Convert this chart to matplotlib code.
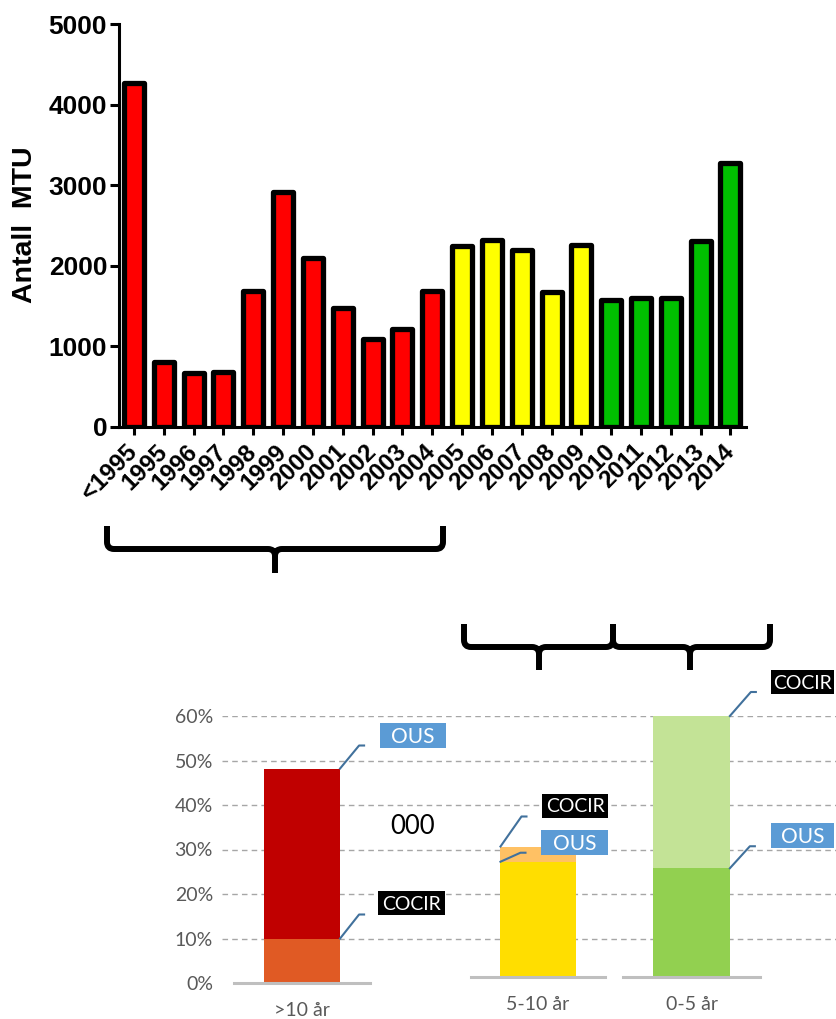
import matplotlib
matplotlib.use('Agg')
import matplotlib.pyplot as plt
from matplotlib.path import Path
from matplotlib.patches import PathPatch, Rectangle
from matplotlib.lines import Line2D

W, H = 837, 1019

# MTU per installasjonsår
years = ['<1995', '1995', '1996', '1997', '1998', '1999', '2000', '2001', '2002',
         '2003', '2004', '2005', '2006', '2007', '2008', '2009', '2010', '2011',
         '2012', '2013', '2014']
antall = [4270, 810, 665, 680, 1690, 2910, 2100, 1475, 1095, 1215, 1685,
          2245, 2325, 2190, 1675, 2255, 1575, 1605, 1600, 2310, 3275]
age_class = ['>10'] * 11 + ['5-10'] * 5 + ['0-5'] * 5
class_colors = {'>10': '#FF0000', '5-10': '#FFFF00', '0-5': '#00C000'}

# andel utstyr per aldersgruppe, OUS mot COCIR (%)
groups = ['>10 år', '5-10 år', '0-5 år']
ous = [48.2, 26.5, 25.0]
cocir = [10.0, 30.0, 60.0]
lower_colors = ['#E05A24', '#FFDE00', '#92D050']
upper_colors = ['#C00000', '#FFC164', '#C3E396']
pct_ticks = [0, 10, 20, 30, 40, 50, 60]
note = '000'

plt.rcParams['font.family'] = ['Liberation Sans', 'DejaVu Sans']

fig = plt.figure(figsize=(W / 100, H / 100), dpi=100)


def fx(px):
    return px / W


def fy(py):
    return 1 - py / H


def axes_px(left, top, right, bottom):
    return fig.add_axes([fx(left), fy(bottom), (right - left) / W, (bottom - top) / H])


# ---- søylediagram, antall MTU ----
ax = axes_px(119, 24, 746, 427)
xpos = list(range(len(years)))
ax.bar(xpos, antall, width=0.67, color=[class_colors[c] for c in age_class],
       edgecolor='black', linewidth=3.8, joinstyle='round', zorder=2)
ax.set_xlim(-0.5, 20.52)
ax.set_ylim(0, 5000)
ax.set_yticks(range(0, 5001, 1000))
ax.set_xticks(xpos)
ax.set_xticklabels(years, rotation=45, ha='right', va='center', rotation_mode='anchor')
for s in ['top', 'right']:
    ax.spines[s].set_visible(False)
for s in ['left', 'bottom']:
    ax.spines[s].set_linewidth(2.2)
    ax.spines[s].set_zorder(3)
ax.tick_params(axis='y', length=6.5, width=2.2, pad=2, labelsize=19)
ax.tick_params(axis='x', length=6, width=2.2, pad=9, labelsize=17.5)
for lab in ax.get_xticklabels() + ax.get_yticklabels():
    lab.set_fontweight('bold')
fig.text(fx(25), fy(225), 'Antall  MTU', rotation=90, ha='center', va='center',
         fontsize=20.5, fontweight='bold')


# ---- klammer som knytter årene til aldersgruppene ----
def brace(x0, x1, xc, top, mid, bot, r=7):
    verts = [(x0, top), (x0, mid - r), (x0, mid), (x0 + r, mid), (xc - r, mid),
             (xc, mid), (xc, mid + r), (xc, bot),
             (x1, top), (x1, mid - r), (x1, mid), (x1 - r, mid), (xc + r, mid),
             (xc, mid), (xc, mid + r)]
    codes = [Path.MOVETO, Path.LINETO, Path.CURVE3, Path.CURVE3, Path.LINETO,
             Path.CURVE3, Path.CURVE3, Path.LINETO,
             Path.MOVETO, Path.LINETO, Path.CURVE3, Path.CURVE3, Path.LINETO,
             Path.CURVE3, Path.CURVE3]
    verts = [(fx(a), fy(b)) for a, b in verts]
    fig.add_artist(PathPatch(Path(verts, codes), fill=False, lw=4.3, color='black',
                             capstyle='butt', joinstyle='round',
                             transform=fig.transFigure))


brace(107, 443, 275, 526, 549, 573)
brace(464, 613, 539, 624, 647, 670)
brace(613, 770, 690, 624, 647, 670)

# ---- andelsdiagram, felles prosentakse med stiplede hjelpelinjer ----
label_font = dict(family=['Lato', 'DejaVu Sans'], color='#595959', fontsize=14)

axp = axes_px(222, 716, 836, 983)
axp.set_xlim(0, 1)
axp.set_ylim(0, 60)
axp.set_yticks(pct_ticks)
axp.set_yticklabels([f'{v}%' for v in pct_ticks], **label_font)
axp.set_xticks([])
for v in pct_ticks[1:]:
    axp.axhline(v, color='#A6A6A6', lw=1.0, ls=(0, (4, 3)), zorder=0)
for s in axp.spines.values():
    s.set_visible(False)
axp.tick_params(axis='y', length=0, pad=6.5)
axp.patch.set_visible(False)

sub_frames = [(234, 370, 983), (471, 605, 977), (623, 760, 977)]
sub_axes = []
for i, (left, right, base) in enumerate(sub_frames):
    axs = axes_px(left, 716, right, base)
    lo, hi = min(ous[i], cocir[i]), max(ous[i], cocir[i])
    axs.bar(0, lo, width=0.56, color=lower_colors[i], zorder=2)
    axs.bar(0, hi - lo, bottom=lo, width=0.56, color=upper_colors[i], zorder=2)
    axs.set_xlim(-0.5, 0.5)
    axs.set_ylim(0, 60)
    axs.set_yticks([])
    axs.set_xticks([0])
    axs.set_xticklabels([groups[i]], **label_font)
    axs.tick_params(axis='x', length=0, pad=14)
    for s in ['top', 'right', 'left']:
        axs.spines[s].set_visible(False)
    axs.spines['bottom'].set_color('#BFBFBF')
    axs.spines['bottom'].set_linewidth(2.2)
    axs.patch.set_visible(False)
    sub_axes.append(axs)

fig.text(fx(413), fy(827), note, ha='center', va='center', fontsize=18.5,
         family=['Lato', 'DejaVu Sans'], color='black')

# etiketter med hjelpelinje: (gruppe, kilde, side, knekkpunkt, boks) i piksler
callouts = [
    (0, 'OUS', 'right', (19, 23), (40, 21, 66, 25)),
    (0, 'COCIR', 'right', (19, 24), (38, 24, 67, 24)),
    (1, 'COCIR', 'left', (21, 30), (42, 29, 66, 24)),
    (1, 'OUS', 'left', (20, 9), (41, 7, 67, 25)),
    (2, 'COCIR', 'right', (21, 24), (41, 22, 63, 24)),
    (2, 'OUS', 'right', (20, 22), (41, 20, 63, 25)),
]
box_colors = {'OUS': '#5B9BD5', 'COCIR': 'black'}
box_fontsize = {'OUS': 15, 'COCIR': 14}

for g, src, side, (ex, ey), (bx, by, bw, bh) in callouts:
    value = ous[g] if src == 'OUS' else cocir[g]
    xe = 0.28 if side == 'right' else -0.28
    px, py = sub_axes[g].transData.transform((xe, value))
    lx = [px, px + ex, px + ex + 5]
    ly = [py, py + ey, py + ey]
    fig.add_artist(Line2D([a / W for a in lx], [b / H for b in ly], color='#41719C',
                          lw=1.5, transform=fig.transFigure, zorder=4))
    fig.add_artist(Rectangle(((px + bx) / W, (py + by) / H), bw / W, bh / H,
                             facecolor=box_colors[src], edgecolor='none',
                             transform=fig.transFigure, zorder=5))
    fig.text((px + bx + bw / 2) / W, (py + by + bh / 2) / H - 1.5 / H, src,
             ha='center', va='center', color='white', fontsize=box_fontsize[src],
             family=['Lato', 'DejaVu Sans'], zorder=6)

fig.savefig('out.png', dpi=100)
